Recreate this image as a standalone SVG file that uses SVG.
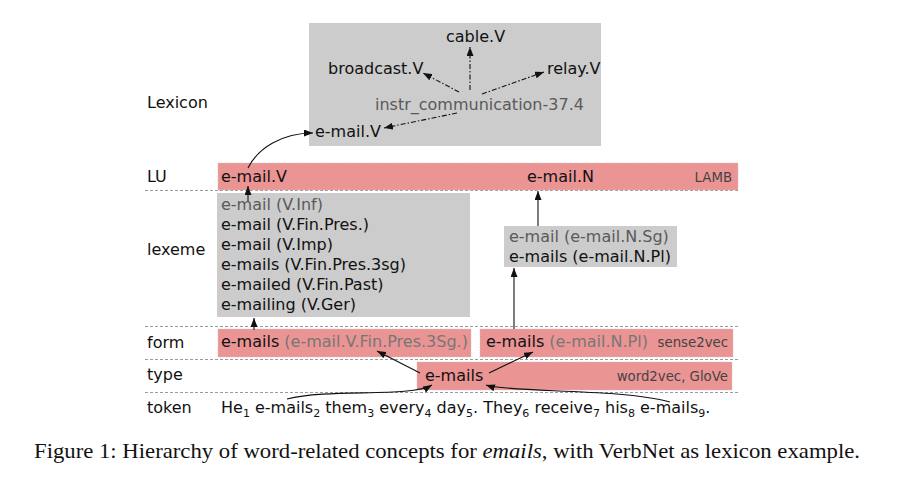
<svg xmlns="http://www.w3.org/2000/svg" width="901" height="489" viewBox="0 0 901 489">
<style>
.t{font-family:"DejaVu Sans",sans-serif;font-size:16px;fill:#111}
.g{fill:#5a5a5a}
.lg{fill:#777}
.sm{font-size:13.3px;fill:#444}
.pink{fill:#ea9494;stroke:#d8c0c0;stroke-width:0.8;stroke-dasharray:1.5,1.5}
.gray{fill:#cccccc}
.dash{stroke:#9a9a9a;stroke-width:1;stroke-dasharray:3,2;fill:none}
.c{stroke:#111;stroke-width:1.1;fill:none}
.dd{stroke-dasharray:5,2,1.5,2}
.cap{font-family:"Liberation Serif","Times New Roman",serif;font-size:21px;fill:#111}
</style>
<defs>
<marker id="ah" viewBox="0 0 9 7" refX="9" refY="3.5" markerWidth="9" markerHeight="7" orient="auto" markerUnits="userSpaceOnUse">
<path d="M0,0 L9,3.5 L0,7 z" fill="#111"/>
</marker>
</defs>
<rect width="901" height="489" fill="#fff"/>

<g id="rows">
<line class="dash" x1="145" y1="190.5" x2="740" y2="190.5"/>
<line class="dash" x1="145" y1="326.5" x2="740" y2="326.5"/>
<line class="dash" x1="145" y1="359.5" x2="740" y2="359.5"/>
<line class="dash" x1="145" y1="392.5" x2="740" y2="392.5"/>
<text class="t" x="147" y="108">Lexicon</text>
<text class="t" x="147" y="182">LU</text>
<text class="t" x="147" y="255">lexeme</text>
<text class="t" x="147" y="348">form</text>
<text class="t" x="147" y="380">type</text>
<text class="t" x="147" y="413">token</text>
</g>

<g id="lexicon">
<rect class="gray" x="309" y="23" width="292" height="123"/>
<text class="t" x="446" y="42">cable.V</text>
<text class="t" x="328" y="74">broadcast.V</text>
<text class="t" x="547" y="74">relay.V</text>
<text class="t g" x="375" y="110">instr_communication-37.4</text>
<text class="t" x="315" y="137">e-mail.V</text>
</g>

<g id="lu">
<rect class="pink" x="218" y="163" width="520" height="27"/>
<text class="t" x="221" y="182">e-mail.V</text>
<text class="t" x="527" y="182">e-mail.N</text>
<text class="t sm" x="732" y="182" text-anchor="end">LAMB</text>
</g>

<g id="lexeme-verb">
<rect class="gray" x="217" y="193" width="253" height="124"/>
<text class="t g" x="221" y="209.5">e-mail (V.Inf)</text>
<text class="t" x="221" y="229.5">e-mail (V.Fin.Pres.)</text>
<text class="t" x="221" y="249.5">e-mail (V.Imp)</text>
<text class="t" x="221" y="269.5">e-mails (V.Fin.Pres.3sg)</text>
<text class="t" x="221" y="289.5">e-mailed (V.Fin.Past)</text>
<text class="t" x="221" y="309.5">e-mailing (V.Ger)</text>
</g>

<g id="lexeme-noun">
<rect class="gray" x="504" y="226" width="173" height="41"/>
<text class="t g" x="509" y="242">e-mail (e-mail.N.Sg)</text>
<text class="t" x="509" y="262">e-mails (e-mail.N.Pl)</text>
</g>

<g id="form-verb">
<rect class="pink" x="218" y="329" width="253" height="28"/>
<text class="t" x="221" y="347">e-mails <tspan class="lg">(e-mail.V.Fin.Pres.3Sg.)</tspan></text>
</g>

<g id="form-noun">
<rect class="pink" x="480" y="329" width="253" height="28"/>
<text class="t" x="486" y="347">e-mails <tspan class="lg">(e-mail.N.Pl)</tspan></text>
<text class="t sm" x="728" y="347" text-anchor="end">sense2vec</text>
</g>

<g id="type">
<rect class="pink" x="417" y="362" width="315" height="28"/>
<text class="t" x="425" y="381">e-mails</text>
<text class="t sm" x="728" y="381" text-anchor="end">word2vec, GloVe</text>
</g>

<g id="token">
<text class="t" x="221" y="413">He<tspan font-size="11" dy="4">1</tspan><tspan dy="-4"> e-mails</tspan><tspan font-size="11" dy="4">2</tspan><tspan dy="-4"> them</tspan><tspan font-size="11" dy="4">3</tspan><tspan dy="-4"> every</tspan><tspan font-size="11" dy="4">4</tspan><tspan dy="-4"> day</tspan><tspan font-size="11" dy="4">5</tspan><tspan dy="-4">. They</tspan><tspan font-size="11" dy="4">6</tspan><tspan dy="-4"> receive</tspan><tspan font-size="11" dy="4">7</tspan><tspan dy="-4"> his</tspan><tspan font-size="11" dy="4">8</tspan><tspan dy="-4"> e-mails</tspan><tspan font-size="11" dy="4">9</tspan><tspan dy="-4">.</tspan></text>
</g>

<g id="connectors">
<line class="c dd" x1="470" y1="90" x2="470" y2="47" marker-end="url(#ah)"/>
<line class="c dd" x1="459" y1="92" x2="423" y2="73" marker-end="url(#ah)"/>
<line class="c dd" x1="482" y1="94" x2="544" y2="72" marker-end="url(#ah)"/>
<line class="c dd" x1="457" y1="113" x2="384" y2="128" marker-end="url(#ah)"/>
<path class="c" d="M248,168 C258,148 282,133 313,133" marker-end="url(#ah)"/>
<line class="c" x1="248" y1="201" x2="248" y2="186" marker-end="url(#ah)"/>
<line class="c" x1="254" y1="330" x2="254" y2="318" marker-end="url(#ah)"/>
<line class="c" x1="538" y1="226" x2="538" y2="191" marker-end="url(#ah)"/>
<line class="c" x1="514" y1="329" x2="514" y2="268" marker-end="url(#ah)"/>
<line class="c" x1="420" y1="373" x2="377" y2="351" marker-end="url(#ah)"/>
<line class="c" x1="489" y1="373" x2="533" y2="352" marker-end="url(#ah)"/>
<path class="c" d="M287,399 C330,388 410,398 432,385" marker-end="url(#ah)"/>
<path class="c" d="M670,402 C620,388 510,393 486,385" marker-end="url(#ah)"/>
</g>

<text class="cap" x="34" y="458" textLength="826" lengthAdjust="spacingAndGlyphs">Figure 1: Hierarchy of word-related concepts for <tspan font-style="italic">emails</tspan>, with VerbNet as lexicon example.</text>
</svg>
